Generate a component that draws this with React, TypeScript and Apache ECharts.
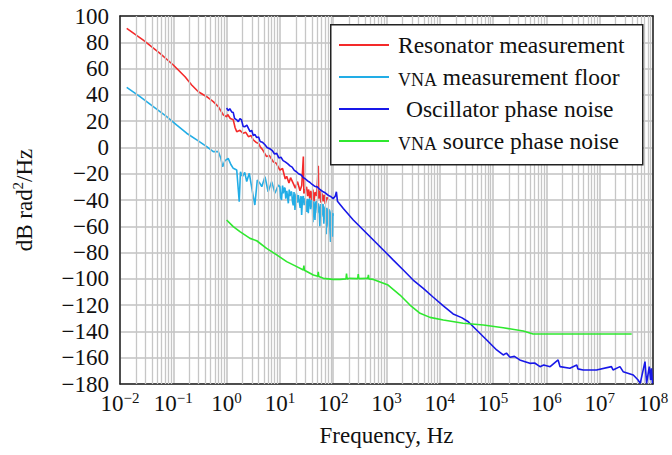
import React, { useEffect, useRef } from "react";
import * as echarts from "echarts";

// log10(frequency / Hz), paired with dB values
const resonatorExp = [-1.874, -1.563, -1.25, -1.0, -0.78, -0.655, -0.53, -0.373, -0.25, -0.156, -0.06, 0.0, 0.02, 0.07, 0.125, 0.16, 0.19, 0.25, 0.31, 0.36, 0.41, 0.46, 0.5, 0.55, 0.6, 0.63, 0.68, 0.75, 0.8, 0.876, 0.93, 1.0, 1.05, 1.1, 1.127, 1.17, 1.2, 1.25, 1.29, 1.33, 1.377, 1.41, 1.44, 1.45, 1.5, 1.52, 1.54, 1.56, 1.58, 1.6, 1.62, 1.64, 1.66, 1.69, 1.72, 1.73, 1.75, 1.77, 1.79, 1.81, 1.83, 1.85, 1.88, 1.92];
const resonatorDb = [90.6, 81.7, 71.6, 62.7, 53.8, 47.5, 42.4, 38.6, 34.8, 31, 24.7, 23.4, 25, 22, 21, 15, 12, 13, 10.7, 11.5, 8.2, 9, 5.7, 4, 3, 0.6, -2, -7, -6, -10.9, -12, -17.2, -16, -24, -22, -27, -23, -27.3, -31, -26, -33, -29, -7, -35, -30, -37, -32, -39, -33, -40, -32, -41, -34, -37, -14, -39, -33, -42, -35, -41, -36, -43, -38, -40];

const floorExp = [-1.874, -1.625, -1.375, -1.124, -0.94, -0.75, -0.56, -0.373, -0.25, -0.156, -0.11, -0.074, -0.03, 0.03, 0.08, 0.125, 0.19, 0.237, 0.26, 0.3, 0.34, 0.377, 0.426, 0.49, 0.53, 0.576, 0.62, 0.66, 0.72, 0.78, 0.846, 0.908, 0.97, 1.0, 1.015, 1.03, 1.05, 1.065, 1.08, 1.096, 1.11, 1.13, 1.158, 1.175, 1.19, 1.205, 1.22, 1.235, 1.25, 1.265, 1.283, 1.3, 1.31, 1.33, 1.346, 1.36, 1.38, 1.395, 1.408, 1.425, 1.44, 1.455, 1.47, 1.485, 1.5, 1.515, 1.533, 1.545, 1.56, 1.575, 1.596, 1.61, 1.62, 1.635, 1.658, 1.67, 1.69, 1.705, 1.72, 1.735, 1.75, 1.765, 1.784, 1.8, 1.81, 1.825, 1.846, 1.86, 1.87, 1.88, 1.89, 1.9, 1.908, 1.92, 1.93, 1.94, 1.95, 1.96, 1.97, 1.978, 1.985, 1.992, 2.0];
const floorDb = [45.7, 38.6, 31, 23.4, 17.1, 10.8, 5.7, 0.6, -3.2, -3.2, -8, -14.7, -10, -8.3, -13, -15.9, -17.2, -41.3, -18.5, -22, -19, -26, -19.7, -34.9, -43.8, -24.8, -27, -29.9, -22.3, -33.7, -26, -34.9, -28.6, -30, -38, -40, -29, -35, -31, -31, -39, -33, -42.5, -32, -37, -34, -33.7, -41, -44, -34, -47.6, -36, -35, -42, -36.2, -40, -46, -37, -51.4, -38, -37, -44, -38.7, -42, -49, -39, -50.1, -40, -39, -47, -40, -44, -57, -41, -55.2, -42, -41, -50, -42.5, -46, -60, -43, -52.7, -44, -43, -58, -45, -50, -66, -46, -48, -56, -60.3, -47, -50, -64, -72, -49, -47.6, -62, -68, -50, -52];

const oscillatorExp = [0.0, 0.03, 0.06, 0.095, 0.125, 0.15, 0.19, 0.22, 0.25, 0.28, 0.31, 0.345, 0.38, 0.41, 0.44, 0.47, 0.5, 0.53, 0.565, 0.6, 0.63, 0.67, 0.72, 0.76, 0.81, 0.86, 0.9, 0.94, 0.98, 1.02, 1.06, 1.1, 1.15, 1.19, 1.23, 1.27, 1.31, 1.35, 1.4, 1.44, 1.48, 1.52, 1.56, 1.6, 1.65, 1.7, 1.75, 1.8, 1.85, 1.91, 1.96, 2.0, 2.04, 2.06, 2.08, 2.19, 2.377, 2.565, 2.753, 2.94, 3.128, 3.315, 3.5, 3.69, 3.878, 4.066, 4.25, 4.41, 4.535, 4.69, 4.88, 5.067, 5.19, 5.25, 5.317, 5.4, 5.5, 5.6, 5.69, 5.78, 5.88, 5.95, 6.07, 6.22, 6.255, 6.44, 6.57, 6.59, 6.69, 6.94, 7.22, 7.25, 7.38, 7.44, 7.63, 7.72, 7.76, 7.85, 7.88, 7.93, 7.955, 7.97, 7.99];
const oscillatorDb = [30, 28, 29.5, 27, 26.5, 22, 21, 19.6, 22, 20.9, 16, 15.8, 17, 14.5, 12, 13, 9, 10, 7.5, 8, 4.5, 4, 2, 0, -1, -2.5, -5, -4.5, -8, -7.5, -10, -11, -12.5, -14, -15, -17.5, -18.5, -20, -21, -23, -24, -25.5, -26.5, -28, -29.5, -30, -32, -33.5, -34.5, -36.5, -37.5, -39, -37, -33.7, -41, -46.5, -55.2, -62.8, -70.4, -78, -85.7, -93.3, -100.9, -107.2, -114, -120.6, -126.7, -129.5, -132.6, -138.9, -146.5, -154.1, -157.9, -156.5, -159.7, -159, -161.7, -163, -164.3, -164, -166.8, -165.5, -166.8, -161.7, -166.8, -168, -165.5, -168.5, -169.3, -169.3, -166.8, -169.3, -166.8, -170.6, -173.2, -177, -179.5, -163, -179.5, -166.8, -177, -168, -179.5];

const sourceExp = [0.0, 0.125, 0.25, 0.44, 0.565, 0.75, 0.94, 1.127, 1.315, 1.44, 1.45, 1.46, 1.627, 1.71, 1.72, 1.73, 1.815, 2.0, 2.128, 2.24, 2.25, 2.26, 2.315, 2.46, 2.47, 2.48, 2.63, 2.65, 2.66, 2.67, 2.753, 3.03, 3.253, 3.44, 3.63, 3.816, 4.066, 4.44, 4.816, 5.19, 5.566, 5.75, 6.316, 7.6];
const sourceDb = [-55.2, -60.3, -64.1, -69.2, -71, -76.8, -81.8, -86.9, -90.7, -93.3, -90, -93.5, -97.1, -98, -94.6, -98.3, -99.6, -100.4, -100.4, -100, -96, -100, -99.6, -99.8, -96.3, -99.8, -99.6, -99.8, -97, -100, -100.4, -104.7, -112.3, -119.9, -126.2, -129.3, -131.3, -133.8, -135.1, -137.2, -139.7, -141.9, -141.9, -141.9];

const seriesNames = ["Resonator measurement", "VNA measurement floor", "Oscillator phase noise", "VNA source phase noise"];
const seriesColors = ["#f42a2a", "#22ade6", "#1818e8", "#2fe82f"];

const xMin = 0.01;
const xMax = 1e8;
const yMin = -180;
const yMax = 100;
const yStep = 20;
const minorDecades = [-2, -1, 0, 1, 2, 3, 4, 5, 6, 7];
const minorMultipliers = [2, 3, 4, 5, 6, 7, 8, 9];

const FONT = "'Liberation Serif', 'DejaVu Serif', serif";

function pairs(exp: number[], db: number[]) {
  return exp.map((e, i) => [Math.pow(10, e), db[i]]);
}

export default function App() {
  const ref = useRef<HTMLDivElement>(null);
  useEffect(() => {
    if (!ref.current) return;
    const chart = echarts.init(ref.current, undefined, { renderer: "svg" });
    const minorLines: any[] = [];
    minorDecades.forEach((d) =>
      minorMultipliers.forEach((k) => minorLines.push({ xAxis: k * Math.pow(10, d) }))
    );
    const datasets = [
      pairs(resonatorExp, resonatorDb),
      pairs(floorExp, floorDb),
      pairs(oscillatorExp, oscillatorDb),
      pairs(sourceExp, sourceDb),
    ];
    const minus = (v: number) => (v < 0 ? "\u2212" + Math.abs(v) : String(v));
    const frame = { show: true, onZero: false, lineStyle: { color: "#222", width: 1.5 } };
    const gridLine = { show: true, lineStyle: { color: "#c2c2c2", width: 1.5 } };
    chart.setOption({
      animation: false,
      backgroundColor: "#fff",
      grid: { left: 120, right: 19, top: 16, bottom: 71, containLabel: false },
      xAxis: [
        {
          type: "log",
          logBase: 10,
          min: xMin,
          max: xMax,
          interval: 1,
          splitNumber: 10,
          name: "Frequency, Hz",
          nameLocation: "middle",
          nameGap: 40,
          nameTextStyle: { fontFamily: FONT, fontSize: 23, color: "#111" },
          axisLine: frame,
          axisTick: { show: false },
          minorTick: { show: false },
          splitLine: gridLine,
          axisLabel: {
            margin: 6,
            color: "#111",
            showMinLabel: true,
            showMaxLabel: true,
            formatter: (v: number) => {
              const e = Math.round(Math.log10(v));
              return "{b|10}{s|" + minus(e) + "}";
            },
            rich: {
              b: { fontFamily: FONT, fontSize: 23, color: "#111", lineHeight: 26 },
              s: { fontFamily: FONT, fontSize: 15, color: "#111", verticalAlign: "top", lineHeight: 16 },
            },
          },
        },
        {
          type: "log",
          logBase: 10,
          min: xMin,
          max: xMax,
          interval: 1,
          position: "top",
          axisLine: frame,
          axisTick: { show: false },
          axisLabel: { show: false },
          splitLine: { show: false },
        },
      ],
      yAxis: [
        {
          type: "value",
          min: yMin,
          max: yMax,
          interval: yStep,
          name: "{a|dB rad}{s|2}{a|/Hz}",
          nameLocation: "middle",
          nameGap: 82,
          nameTextStyle: {
            rich: {
              a: { fontFamily: FONT, fontSize: 23, color: "#111", lineHeight: 28 },
              s: { fontFamily: FONT, fontSize: 15, color: "#111", verticalAlign: "top", lineHeight: 16 },
            },
          },
          axisLine: frame,
          axisTick: { show: false },
          splitLine: gridLine,
          axisLabel: {
            margin: 11,
            fontFamily: FONT,
            fontSize: 23,
            color: "#111",
            formatter: (v: number) => minus(v),
          },
        },
        {
          type: "value",
          min: yMin,
          max: yMax,
          interval: yStep,
          position: "right",
          axisLine: frame,
          axisTick: { show: false },
          axisLabel: { show: false },
          splitLine: { show: false },
        },
      ],
      legend: {
        data: seriesNames,
        orient: "vertical",
        left: 339,
        top: 33,
        padding: 0,
        itemGap: 8,
        itemWidth: 50,
        itemHeight: 2,
        icon: "rect",
        z: 10,
        formatter: (name: string) => {
          if (name.startsWith("VNA ")) return "{sc|VNA}{t| " + name.slice(4) + "}";
          if (name.startsWith("Oscillator")) return "{o|" + name + "}";
          return "{f|" + name + "}";
        },
        textStyle: {
          rich: {
            f: { fontFamily: FONT, fontSize: 23.5, color: "#111", lineHeight: 24, verticalAlign: "bottom", padding: [0, 0, 0, 4] },
            o: { fontFamily: FONT, fontSize: 23.5, color: "#111", lineHeight: 24, verticalAlign: "bottom", padding: [0, 0, 0, 12] },
            t: { fontFamily: FONT, fontSize: 23.5, color: "#111", lineHeight: 24, verticalAlign: "bottom" },
            sc: { fontFamily: FONT, fontSize: 18, color: "#111", lineHeight: 20, verticalAlign: "bottom", padding: [0, 0, 0, 4] },
          },
        },
      },
      graphic: [
        {
          type: "rect",
          left: 330,
          top: 24,
          z: 9,
          shape: { width: 312, height: 140 },
          style: { fill: "#fff", stroke: "#222", lineWidth: 1.5 },
        },
      ],
      series: [
        {
          type: "line",
          name: "__minor",
          data: [],
          z: 1,
          silent: true,
          markLine: {
            silent: true,
            symbol: ["none", "none"],
            label: { show: false },
            lineStyle: { color: "#c6c6c6", width: 1.3, type: "solid" },
            emphasis: { disabled: true },
            data: minorLines,
          },
        },
        ...datasets.map((d, i) => ({
          type: "line",
          name: seriesNames[i],
          data: d,
          z: 3 + i,
          showSymbol: false,
          symbol: "none",
          color: seriesColors[i],
          lineStyle: { color: seriesColors[i], width: 1.6 },
          itemStyle: { color: seriesColors[i] },
        })),
      ],
    });
    return () => chart.dispose();
  }, []);
  return <div ref={ref} style={{ width: 672, height: 455, position: "absolute", left: 0, top: 0 }} />;
}
